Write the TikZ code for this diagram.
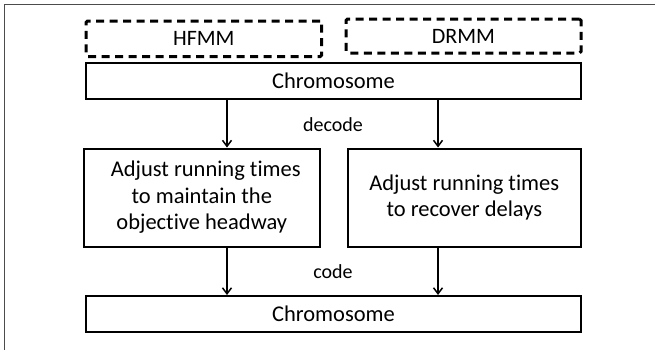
\documentclass[tikz,border=0pt]{standalone}
\usepackage{fontspec}
\setmainfont{Carlito}[RawFeature={-liga}]
\usetikzlibrary{arrows.meta}
\tikzset{
  box/.style={draw=black, line width=2pt, inner sep=0pt, align=center,
    font=\fontsize{22.5}{26.5}\selectfont},
  dbox/.style={draw=black, line width=3pt, dash pattern=on 8pt off 5.5pt,
    rounded corners=1.5pt, inner sep=0pt, font=\fontsize{22}{26.5}\selectfont},
  lbl/.style={inner sep=0pt, font=\fontsize{20}{24}\selectfont},
  arr/.style={line width=1.6pt, -{Straight Barb[length=6pt,width=9pt,line width=1.5pt]}},
  frame/.style={line width=1pt, draw=black!70}
}
\begin{document}
\begin{tikzpicture}[x=1pt,y=-1pt]
\useasboundingbox (0,0) rectangle (655,349);
\coordinate (fo) at (4.5,4.5);
\coordinate (fr) at (660,4.5);
\coordinate (fb) at (4.5,360);
\draw[frame] (fr) -- (fo) -- (fb);
\node[dbox, minimum width=235.6pt, minimum height=35.5pt] (hfmm) at (203.8,38.8) {HFMM};
\node[dbox, minimum width=235pt, minimum height=34pt] (drmm) at (463.5,36) {DRMM};
\node[box, minimum width=495pt, minimum height=36pt] (chrom1) at (333.5,81) {Chromosome};
\node[box, minimum width=235.5pt, minimum height=98pt] (left) at (201.8,197.5)
  {\hspace*{8pt}Adjust running times\\to maintain the\\objective headway};
\node[box, minimum width=233.5pt, minimum height=98pt] (right) at (464.3,197.5)
  {Adjust running times\\to recover delays};
\node[box, minimum width=495pt, minimum height=36pt] (chrom2) at (333.5,314) {Chromosome};
\node[lbl] (decode) at (333,125) {decode};
\node[lbl] (code) at (333,272) {code};
\coordinate (a1) at ([xshift=142pt]chrom1.south west);
\coordinate (a2) at ([xshift=353pt]chrom1.south west);
\draw[arr] (a1) -- (a1 |- left.north);
\draw[arr] (a2) -- (a2 |- right.north);
\draw[arr] (a1 |- left.south) -- (a1 |- chrom2.north);
\draw[arr] (a2 |- right.south) -- (a2 |- chrom2.north);
\end{tikzpicture}
\end{document}
